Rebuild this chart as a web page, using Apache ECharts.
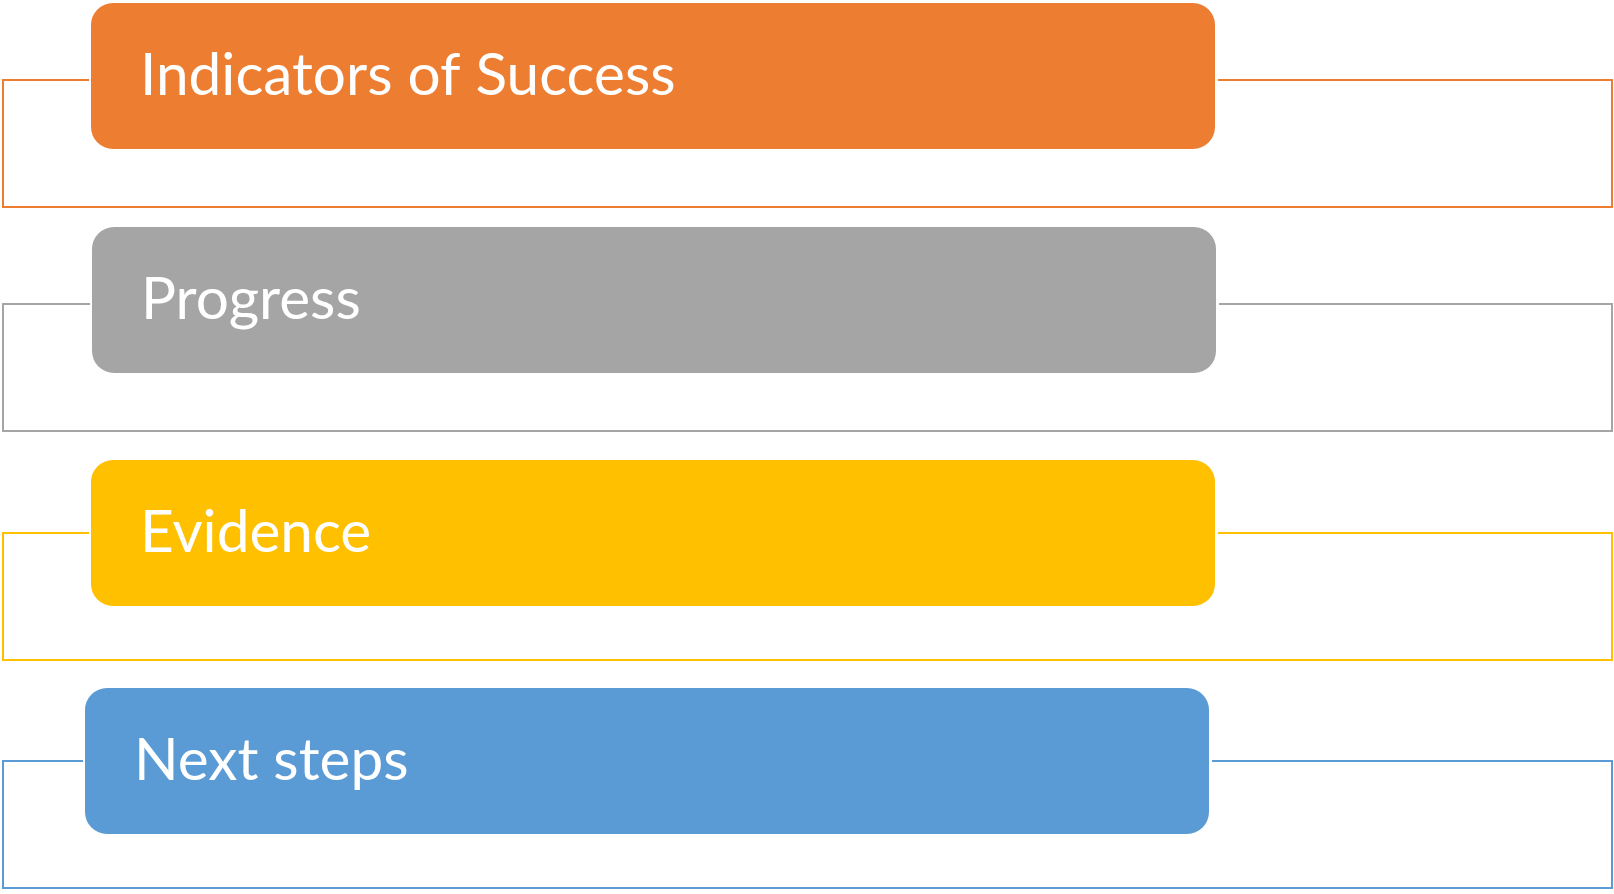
<!DOCTYPE html>
<html>
<head>
<meta charset="utf-8">
<script src="https://cdn.jsdelivr.net/npm/echarts@6/dist/echarts.min.js"></script>
<style>
html,body{margin:0;padding:0;background:#ffffff;}
#chart{width:1614px;height:894px;}
</style>
</head>
<body>
<div id="chart"></div>
<script>
// ---- content ----
const categories = ['Indicators of Success', 'Progress', 'Evidence', 'Next steps'];
const colors = ['#ED7D31', '#A5A5A5', '#FFC000', '#5B9BD5'];

// ---- layout (pixel units on the hidden x axis) ----
const layout = {
  boxLeft: 91, boxRight: 1215, boxHeight: 146, radius: 22,
  boxShiftX: [0, 1, 0, -6], boxShiftY: [-4, -4, 0, 0], rowShiftY: [0, -3, -1, 0],
  bracketLeft: 3, bracketRight: 1612, bracketDepth: 127,
  textPad: 49, fontSize: 58.5, lineWidth: 2
};

const chart = echarts.init(document.getElementById('chart'), null, {renderer: 'canvas'});

chart.setOption({
  animation: false,
  backgroundColor: '#ffffff',
  grid: {left: 0, right: 0, top: 80, bottom: 133},
  xAxis: {type: 'value', min: 0, max: 1614, show: false},
  yAxis: {type: 'category', data: categories, inverse: true, boundaryGap: false, show: false},
  series: [{
    type: 'custom',
    clip: false,
    silent: true,
    encode: {x: 0, y: 1},
    data: categories.map((c, i) => [0, i]),
    renderItem: function (params, api) {
      const i = params.dataIndex;
      const sy = api.coord([0, api.value(1)])[1] + layout.rowShiftY[i];
      const xL = api.coord([layout.boxLeft + layout.boxShiftX[i], 0])[0];
      const xR = api.coord([layout.boxRight + layout.boxShiftX[i], 0])[0];
      const bL = api.coord([layout.bracketLeft, 0])[0];
      const bR = api.coord([layout.bracketRight, 0])[0];
      const cy = sy + layout.boxShiftY[i];
      const col = colors[i];
      return {
        type: 'group',
        children: [
          {
            type: 'polyline',
            shape: {points: [
              [xL - 2, sy], [bL, sy], [bL, sy + layout.bracketDepth],
              [bR, sy + layout.bracketDepth], [bR, sy], [xR + 3, sy]
            ]},
            style: {stroke: col, lineWidth: layout.lineWidth, fill: null}
          },
          {
            type: 'rect',
            shape: {x: xL, y: cy - layout.boxHeight / 2, width: xR - xL, height: layout.boxHeight, r: layout.radius},
            style: {fill: col}
          },
          {
            type: 'text',
            x: xL + layout.textPad,
            y: cy,
            style: {
              text: categories[i],
              fill: '#ffffff',
              fontFamily: 'Lato',
              fontSize: layout.fontSize,
              align: 'left',
              verticalAlign: 'middle'
            }
          }
        ]
      };
    }
  }]
});
</script>
</body>
</html>
